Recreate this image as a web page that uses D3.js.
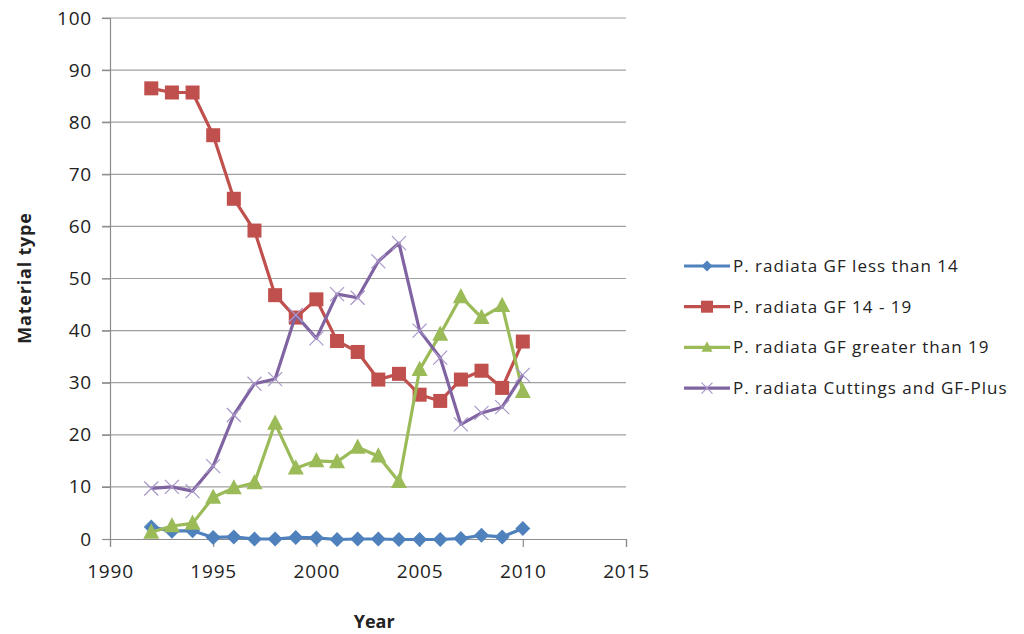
<!DOCTYPE html>
<html>
<head>
<meta charset="utf-8">
<script src="https://cdn.jsdelivr.net/npm/d3@7"></script>
<style>
  body { margin: 0; background: #fff; }
  text { font-family: "Open Sans", "Noto Sans", sans-serif; fill: #222; }
</style>
</head>
<body>
<script>
// data
var years = [1992, 1993, 1994, 1995, 1996, 1997, 1998, 1999, 2000, 2001,
             2002, 2003, 2004, 2005, 2006, 2007, 2008, 2009, 2010];
var lessThan14 = [2.3, 1.5, 1.6, 0.3, 0.4, 0.0, 0.0, 0.3, 0.2, -0.1,
                  0.0, 0.0, -0.1, -0.1, -0.1, 0.1, 0.7, 0.4, 2.0];
var gf14to19 = [86.5, 85.7, 85.7, 77.5, 65.3, 59.2, 46.8, 42.5, 46.0, 38.0,
                35.9, 30.6, 31.7, 27.7, 26.5, 30.6, 32.3, 29.0, 37.9];
var greaterThan19 = [1.3, 2.5, 3.0, 8.0, 9.8, 10.8, 22.2, 13.6, 15.0, 14.8,
                     17.6, 15.9, 11.0, 32.5, 39.3, 46.5, 42.5, 44.8, 28.3];
var cuttingsPlus = [9.7, 10.0, 9.2, 14.0, 23.8, 29.8, 30.7, 43.0, 38.5, 47.0,
                    46.3, 53.3, 56.8, 40.0, 34.8, 22.0, 24.2, 25.3, 31.5];
var seriesNames = ["P. radiata GF less than 14", "P. radiata GF 14 - 19",
                   "P. radiata GF greater than 19", "P. radiata Cuttings and GF-Plus"];
var xTicks = [1990, 1995, 2000, 2005, 2010, 2015];
var yTicks = [0, 10, 20, 30, 40, 50, 60, 70, 80, 90, 100];

var series = [
  {name: seriesNames[0], values: lessThan14, color: "#4f81bd", marker: "diamond"},
  {name: seriesNames[1], values: gf14to19, color: "#c0504d", marker: "square"},
  {name: seriesNames[2], values: greaterThan19, color: "#9bbb59", marker: "triangle"},
  {name: seriesNames[3], values: cuttingsPlus, color: "#8064a2", marker: "cross"}
];

var margin = {top: 18, right: 398, bottom: 95, left: 110},
    width = 1024 - margin.left - margin.right,
    height = 634 - margin.top - margin.bottom;

var svg = d3.select("body").append("svg")
    .attr("width", 1024)
    .attr("height", 634)
    .append("g")
    .attr("transform", "translate(" + margin.left + "," + margin.top + ")");

var x = d3.scaleLinear().domain([1990, 2015]).range([0, width]);
var y = d3.scaleLinear().domain([0, 100]).range([height, 0]);

// gridlines
svg.append("g")
    .selectAll("line")
    .data(yTicks.slice(1))
    .enter().append("line")
    .attr("x1", -8)
    .attr("x2", width)
    .attr("y1", d => y(d))
    .attr("y2", d => y(d))
    .attr("stroke", "#a0a0a0")
    .attr("stroke-width", 1.2);

// y axis
var yAxis = svg.append("g")
    .call(d3.axisLeft(y).tickValues(yTicks).tickSize(8).tickPadding(10));
yAxis.select(".domain").attr("stroke", "#8c8c8c").attr("stroke-width", 1.2);
yAxis.selectAll(".tick line").attr("stroke", "#8c8c8c").attr("stroke-width", 1.2);
yAxis.selectAll("text").attr("font-size", "19px").attr("fill", "#222")
    .attr("letter-spacing", "0.8px")
    .attr("font-family", "'Open Sans', sans-serif");

// x axis
var xAxis = svg.append("g")
    .attr("transform", "translate(0," + height + ")")
    .call(d3.axisBottom(x).tickValues(xTicks).tickFormat(d3.format("d")).tickSize(8).tickPadding(18));
xAxis.select(".domain").attr("stroke", "#8c8c8c").attr("stroke-width", 1.2);
xAxis.selectAll(".tick line").attr("stroke", "#8c8c8c").attr("stroke-width", 1.2);
xAxis.selectAll("text").attr("font-size", "19px").attr("fill", "#222")
    .attr("letter-spacing", "0.8px")
    .attr("font-family", "'Open Sans', sans-serif");

// axis titles
svg.append("text")
    .attr("transform", "rotate(-90)")
    .attr("x", -(278 - margin.top))
    .attr("y", -79)
    .attr("text-anchor", "middle")
    .attr("font-size", "18px")
    .attr("font-weight", "bold")
    .attr("letter-spacing", "0.8px")
    .text("Material  type");

svg.append("text")
    .attr("x", x(2002.8))
    .attr("y", height + 89)
    .attr("text-anchor", "middle")
    .attr("font-size", "18px")
    .attr("font-weight", "bold")
    .text("Year");

var line = d3.line()
    .x((d, i) => x(years[i]))
    .y(d => y(d));

function drawMarker(g, type, color, s) {
  if (type === "diamond") {
    g.append("path").attr("d", "M0," + (-s) + "L" + s + ",0L0," + s + "L" + (-s) + ",0Z")
      .attr("fill", color);
  } else if (type === "square") {
    g.append("rect").attr("x", -s).attr("y", -s).attr("width", 2 * s).attr("height", 2 * s)
      .attr("fill", color);
  } else if (type === "triangle") {
    g.append("path").attr("d", "M0," + (-s * 1.1) + "L" + s + "," + (s * 0.8) + "L" + (-s) + "," + (s * 0.8) + "Z")
      .attr("fill", color);
  } else {
    g.append("path").attr("d", "M" + (-s) + "," + (-s) + "L" + s + "," + s + "M" + (-s) + "," + s + "L" + s + "," + (-s))
      .attr("stroke", "#a996c9").attr("stroke-width", 1.2).attr("fill", "none");
  }
}

var sizes = {diamond: 7.5, square: 7, triangle: 8, cross: 7};

series.forEach(function(s) {
  var g = svg.append("g");
  g.append("path")
      .datum(s.values)
      .attr("d", line)
      .attr("fill", "none")
      .attr("stroke", s.color)
      .attr("stroke-width", 3.2)
      .attr("stroke-linejoin", "round");
  g.selectAll(".m")
      .data(s.values)
      .enter().append("g")
      .attr("transform", (d, i) => "translate(" + x(years[i]) + "," + y(d) + ")")
      .each(function() { drawMarker(d3.select(this), s.marker, s.color, sizes[s.marker]); });
});

// legend
var legend = d3.select("svg").append("g")
    .selectAll("g")
    .data(series)
    .enter().append("g")
    .attr("transform", (d, i) => "translate(684," + (266 + i * 40.7) + ")");

legend.append("line")
    .attr("x1", 0).attr("x2", 46)
    .attr("stroke", d => d.color)
    .attr("stroke-width", 3.2);

legend.append("g")
    .attr("transform", "translate(23,0)")
    .each(function(d) { drawMarker(d3.select(this), d.marker, d.color, d.marker === "square" ? 6 : 5.5); });

legend.append("text")
    .attr("x", 49)
    .attr("dy", "0.35em")
    .attr("font-size", "17px")
    .attr("letter-spacing", "1px")
    .text(d => d.name);
</script>
</body>
</html>
